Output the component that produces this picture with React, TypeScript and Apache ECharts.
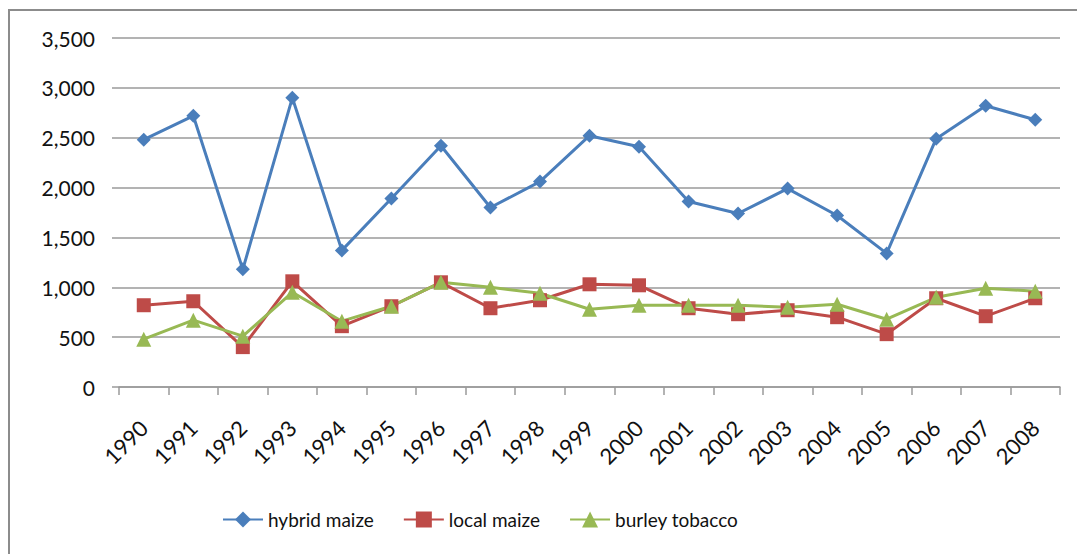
import React, { useEffect, useRef } from "react";
import * as echarts from "echarts";

const years = ["1990","1991","1992","1993","1994","1995","1996","1997","1998","1999","2000","2001","2002","2003","2004","2005","2006","2007","2008"];
const hybridMaize = [2480, 2720, 1180, 2900, 1370, 1890, 2420, 1800, 2060, 2520, 2410, 1860, 1740, 1990, 1720, 1340, 2490, 2820, 2680];
const localMaize = [820, 860, 400, 1060, 610, 810, 1050, 790, 870, 1030, 1020, 790, 730, 770, 700, 530, 890, 710, 890];
const burleyTobacco = [480, 670, 510, 950, 660, 810, 1050, 1000, 940, 780, 820, 820, 820, 800, 830, 680, 900, 990, 960];
const yTicks = { min: 0, max: 3500, interval: 500 };

const FONT = "Lato, 'Noto Sans', sans-serif";

export default function App() {
  const ref = useRef<HTMLDivElement>(null);
  useEffect(() => {
    if (!ref.current) return;
    const chart = echarts.init(ref.current, undefined, { renderer: "svg" });
    chart.setOption({
      animation: false,
      backgroundColor: "#ffffff",
      textStyle: { fontFamily: FONT },
      graphic: [
        {
          type: "rect",
          shape: { x: 9, y: 10, width: 1200, height: 700 },
          style: { fill: "none", stroke: "#8c8c8c", lineWidth: 2 },
          silent: true,
        },
      ],
      grid: { left: 119, right: 17, top: 38, bottom: 554 - 387 },
      legend: {
        left: 222,
        top: 510,
        padding: 0,
        itemWidth: 40,
        itemHeight: 20,
        itemGap: 29,
        textStyle: { fontFamily: FONT, fontSize: 19, color: "#111" },
        data: ["hybrid maize", "local maize", "burley tobacco"],
      },
      xAxis: {
        type: "category",
        data: years,
        boundaryGap: true,
        axisLine: { lineStyle: { color: "#9a9a9a", width: 1.5 } },
        axisTick: { show: true, length: 8, interval: 0, lineStyle: { color: "#9a9a9a", width: 1.5 } },
        axisLabel: {
          interval: 0,
          rotate: 45,
          margin: 37,
          padding: [37, 0, 0, 0],
          fontSize: 22,
          fontFamily: FONT,
          color: "#111",
        },
      },
      yAxis: {
        type: "value",
        min: yTicks.min,
        max: yTicks.max,
        interval: yTicks.interval,
        axisLine: { show: false },
        axisTick: { show: true, length: 7, lineStyle: { color: "#9a9a9a", width: 1.5 } },
        splitLine: { lineStyle: { color: "#9a9a9a", width: 1.5 } },
        axisLabel: {
          margin: 24,
          fontSize: 21,
          fontFamily: FONT,
          color: "#111",
          formatter: (v: number) => v.toLocaleString("en-US"),
        },
      },
      series: [
        {
          name: "hybrid maize",
          type: "line",
          data: hybridMaize,
          symbol: "diamond",
          symbolSize: 14,
          lineStyle: { color: "#4a7ebb", width: 3 },
          itemStyle: { color: "#4a7ebb" },
        },
        {
          name: "local maize",
          type: "line",
          data: localMaize,
          symbol: "rect",
          symbolSize: 14,
          lineStyle: { color: "#be4b48", width: 3 },
          itemStyle: { color: "#be4b48" },
        },
        {
          name: "burley tobacco",
          type: "line",
          data: burleyTobacco,
          symbol: "triangle",
          symbolSize: 15,
          lineStyle: { color: "#98b954", width: 3 },
          itemStyle: { color: "#98b954" },
        },
      ],
    });
    return () => chart.dispose();
  }, []);
  return (
    <div
      ref={ref}
      style={{ position: "fixed", left: 0, top: 0, width: 1077, height: 554 }}
    />
  );
}
